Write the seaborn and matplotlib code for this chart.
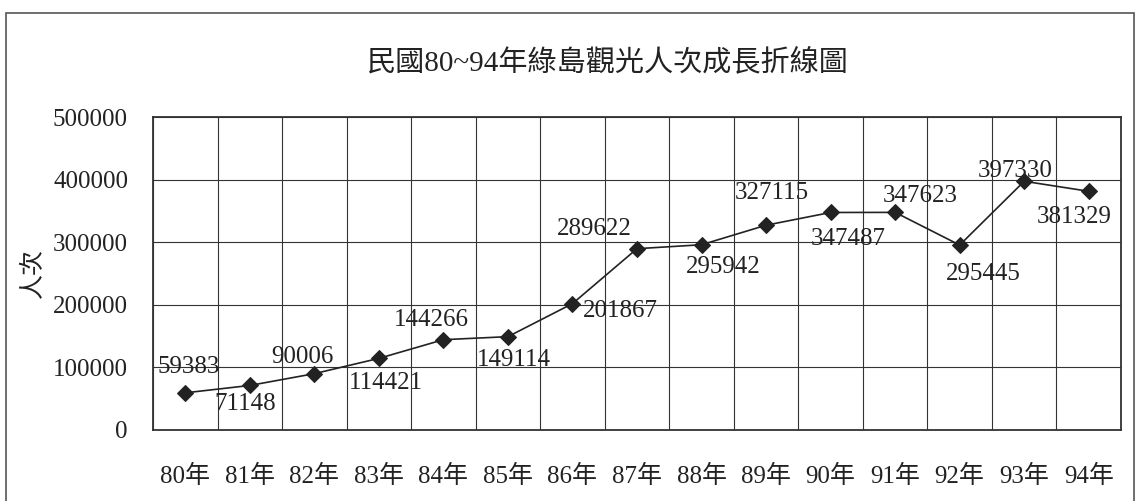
import numpy as np
import pandas as pd
import seaborn as sns
import matplotlib.pyplot as plt
from matplotlib.patches import Rectangle

years = ['80年', '81年', '82年', '83年', '84年', '85年', '86年', '87年',
         '88年', '89年', '90年', '91年', '92年', '93年', '94年']
visitors = [59383, 71148, 90006, 114421, 144266, 149114, 201867, 289622,
            295942, 327115, 347487, 347623, 295445, 397330, 381329]
y_ticks = [0, 100000, 200000, 300000, 400000, 500000]

# where each value label sits relative to its point (pixels, y down)
label_offsets = [(3, -26), (-5, 19), (-12, -17), (7, 25), (-12, -20),
                 (6, 23), (48, 7), (-43, -20), (22, 22), (6, -32),
                 (18, 27), (25, -16), (24, 29), (-9, -10), (-15, 26)]

df = pd.DataFrame({'year': years, 'visitors': visitors})

sns.set_style('white')
plt.rcParams['font.family'] = ['Liberation Serif', 'Noto Sans CJK TC', 'DejaVu Sans']

fig = plt.figure(figsize=(11.42, 5.01), dpi=100)
ax = fig.add_axes([153 / 1142, 71 / 501, 968 / 1142, 313 / 501])

sns.lineplot(data=df, x='year', y='visitors', ax=ax, color='#222222',
             linewidth=1.2, marker='D', markersize=8, markeredgecolor='#222222',
             sort=False)

ax.set_xlim(-0.5, len(years) - 0.5)
ax.set_ylim(0, 500000)
ax.set_yticks(y_ticks)
ax.set_yticklabels([str(v) for v in y_ticks])
ax.set_xticks(range(len(years)))
ax.set_xticklabels(years)
ax.set_xticks(np.arange(-0.5, len(years)), minor=True)
ax.tick_params(axis='both', which='both', length=0, labelsize=18, colors='#222222')
ax.tick_params(axis='x', pad=25)
ax.tick_params(axis='y', pad=18)

ax.grid(True, axis='y', which='major', color='#333333', linewidth=0.8)
ax.grid(True, axis='x', which='minor', color='#333333', linewidth=0.8)
ax.grid(False, axis='x', which='major')
for s in ax.spines.values():
    s.set_color('#333333')
    s.set_linewidth(1.3)

ax.set_xlabel('')
ax.set_ylabel('人次', fontsize=18, color='#222222', labelpad=6)

for i, v in enumerate(visitors):
    dx, dy = label_offsets[i]
    ax.annotate(str(v), (i, v), xytext=(dx * 0.72, -dy * 0.72),
                textcoords='offset points', ha='center', va='center',
                fontsize=18, color='#222222')

fig.text(608 / 1142, 1 - 62 / 501, '民國80~94年綠島觀光人次成長折線圖',
         ha='center', va='center', fontsize=21, color='#222222')

# outer frame of the chart box
fig.patches.append(Rectangle((6 / 1142, -0.1), 1128 / 1142, 1.1 - 13 / 501,
                             transform=fig.transFigure, fill=False,
                             edgecolor='#555555', linewidth=1.2))

fig.savefig('out.png', dpi=100, facecolor='white')
